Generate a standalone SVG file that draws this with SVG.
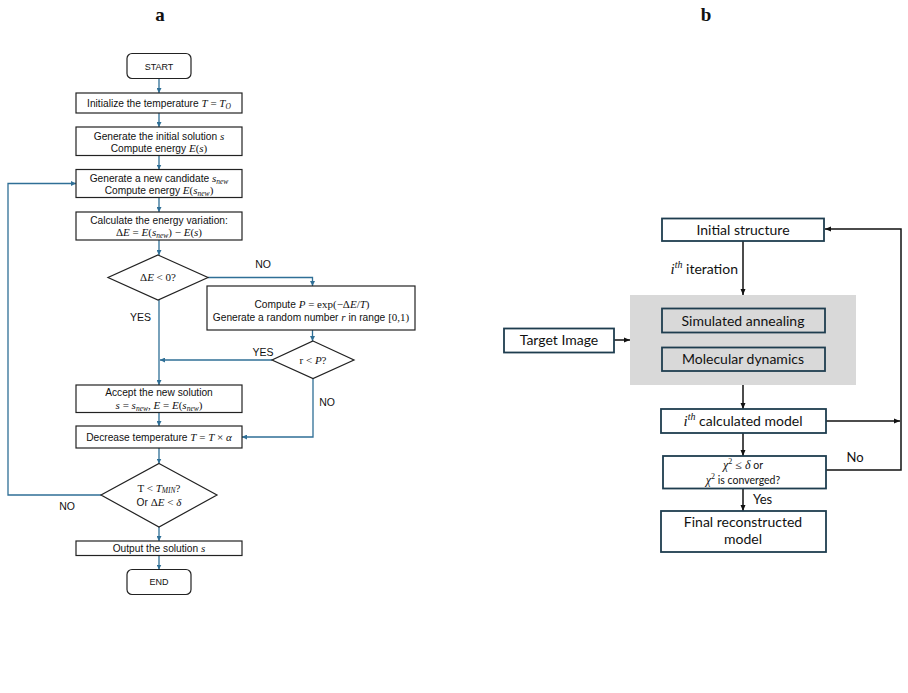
<svg xmlns="http://www.w3.org/2000/svg" width="908" height="693" viewBox="0 0 908 693">
<style>
.bx{fill:#fff;stroke:#222;stroke-width:1.2}
.t{font-family:"Liberation Sans",Arial,sans-serif;font-size:10.2px;fill:#111;text-anchor:middle}
.m{font-family:"Liberation Serif","Times New Roman",serif;font-style:italic;font-size:11px}
.r{font-family:"Liberation Serif","Times New Roman",serif;font-style:normal;font-size:11px}
.sb{font-size:7.5px}
.lab{font-family:"Liberation Sans",Arial,sans-serif;font-size:10.5px;fill:#111;text-anchor:middle}
.cl{fill:none;stroke:#2f6f96;stroke-width:1.3}
.cr{fill:none;stroke:#111;stroke-width:1.5}
.bb{fill:#fff;stroke:#1e3d4f;stroke-width:1.8}
.bg{fill:#d9d9d9;stroke:#1e3d4f;stroke-width:1.8}
.tb{font-family:Lato,"Liberation Sans",sans-serif;font-size:14px;fill:#111;text-anchor:middle}
.hd{font-family:"Liberation Serif","Times New Roman",serif;font-weight:bold;font-size:19px;fill:#111;text-anchor:middle}
</style>
<defs>
<marker id="al" markerUnits="userSpaceOnUse" markerWidth="5" markerHeight="5" refX="5" refY="2.5" orient="auto"><path d="M0,0 L5,2.5 L0,5 z" fill="#2f6f96"/></marker>
<marker id="ar" markerUnits="userSpaceOnUse" markerWidth="6" markerHeight="6" refX="6" refY="3" orient="auto"><path d="M0,0.5 L6,3 L0,5.5 z" fill="#111"/></marker>
</defs>

<text class="hd" x="160" y="21">a</text>
<text class="hd" x="706" y="21">b</text>

<g id="connectors-a">
<path class="cl" d="M159,78 V93" marker-end="url(#al)"/>
<path class="cl" d="M159,113 V127" marker-end="url(#al)"/>
<path class="cl" d="M159,155.5 V169.5" marker-end="url(#al)"/>
<path class="cl" d="M159,197.5 V212" marker-end="url(#al)"/>
<path class="cl" d="M159,240 V255" marker-end="url(#al)"/>
<path class="cl" d="M159,300 V385" marker-end="url(#al)"/>
<path class="cl" d="M208,277.5 H312.5 V286" marker-end="url(#al)"/>
<path class="cl" d="M312.5,330 V341" marker-end="url(#al)"/>
<path class="cl" d="M272,360 H160" marker-end="url(#al)"/>
<path class="cl" d="M313,378.5 V437 H242" marker-end="url(#al)"/>
<path class="cl" d="M159,412.5 V426" marker-end="url(#al)"/>
<path class="cl" d="M159,448 V463.5" marker-end="url(#al)"/>
<path class="cl" d="M101,495 H8 V183.5 H76" marker-end="url(#al)"/>
<path class="cl" d="M159,527 V541" marker-end="url(#al)"/>
<path class="cl" d="M159,555.5 V569.5" marker-end="url(#al)"/>
<text class="lab" x="263" y="268">NO</text>
<text class="lab" x="140.5" y="320.5">YES</text>
<text class="lab" x="263" y="355.5">YES</text>
<text class="lab" x="327" y="405.5">NO</text>
<text class="lab" x="67" y="510">NO</text>
</g>

<g id="start"><rect class="bx" x="127" y="53.5" width="64" height="25" rx="5"/><text class="t" x="159" y="69.5" style="font-size:9px">START</text></g>
<g id="init"><rect class="bx" x="76" y="93" width="166" height="20"/><text class="t" x="159" y="106.5">Initialize the temperature <tspan class="m">T</tspan><tspan class="r"> = </tspan><tspan class="m">T</tspan><tspan class="m sb" dy="2">O</tspan></text></g>
<g id="gen-init"><rect class="bx" x="76" y="127" width="166" height="28.5"/><text class="t" x="159" y="139.5">Generate the initial solution <tspan class="m">s</tspan></text><text class="t" x="159" y="152">Compute energy <tspan class="m">E</tspan><tspan class="r">(</tspan><tspan class="m">s</tspan><tspan class="r">)</tspan></text></g>
<g id="gen-new"><rect class="bx" x="76" y="169.5" width="166" height="28"/><text class="t" x="159" y="181.5">Generate a new candidate <tspan class="m">s</tspan><tspan class="m sb" dy="2">new</tspan></text><text class="t" x="159" y="194">Compute energy <tspan class="m">E</tspan><tspan class="r">(</tspan><tspan class="m">s</tspan><tspan class="m sb" dy="2">new</tspan><tspan class="r" dy="-2">)</tspan></text></g>
<g id="calc"><rect class="bx" x="76" y="212" width="166" height="28"/><text class="t" x="159" y="224">Calculate the energy variation:</text><text class="t" x="159" y="236"><tspan class="r">Δ</tspan><tspan class="m">E</tspan><tspan class="r"> = </tspan><tspan class="m">E</tspan><tspan class="r">(</tspan><tspan class="m">s</tspan><tspan class="m sb" dy="2">new</tspan><tspan class="r" dy="-2">) − </tspan><tspan class="m">E</tspan><tspan class="r">(</tspan><tspan class="m">s</tspan><tspan class="r">)</tspan></text></g>
<g id="dec1"><path class="bx" d="M158,255 L208,277.5 L158,300 L108,277.5 Z"/><text class="t" x="158" y="281"><tspan class="r">Δ</tspan><tspan class="m">E</tspan><tspan class="r"> &lt; 0?</tspan></text></g>
<g id="compute"><rect class="bx" x="207" y="286" width="208" height="44"/><text class="t" x="312" y="307.5">Compute <tspan class="m">P</tspan><tspan class="r"> = exp(−Δ</tspan><tspan class="m">E</tspan><tspan class="r">/</tspan><tspan class="m">T</tspan><tspan class="r">)</tspan></text><text class="t" x="311" y="321">Generate a random number <tspan class="m">r</tspan> in range <tspan class="r">[0,1)</tspan></text></g>
<g id="dec2"><path class="bx" d="M313,341 L354,360 L313,378.5 L272,360 Z"/><text class="t" x="313" y="363.5"><tspan class="r">r &lt; </tspan><tspan class="m">P</tspan><tspan class="r">?</tspan></text></g>
<g id="accept"><rect class="bx" x="76" y="385" width="166" height="27.5"/><text class="t" x="159" y="395.5">Accept the new solution</text><text class="t" x="159" y="408.5"><tspan class="m">s</tspan><tspan class="r"> = </tspan><tspan class="m">s</tspan><tspan class="m sb" dy="2">new</tspan><tspan class="r" dy="-2">, </tspan><tspan class="m">E</tspan><tspan class="r"> = </tspan><tspan class="m">E</tspan><tspan class="r">(</tspan><tspan class="m">s</tspan><tspan class="m sb" dy="2">new</tspan><tspan class="r" dy="-2">)</tspan></text></g>
<g id="decrease"><rect class="bx" x="76" y="426" width="166" height="22"/><text class="t" x="159" y="440.5">Decrease temperature <tspan class="m">T</tspan><tspan class="r"> = </tspan><tspan class="m">T</tspan><tspan class="r"> × </tspan><tspan class="m">α</tspan></text></g>
<g id="dec3"><path class="bx" d="M159,463.5 L217,495 L159,527 L101,495 Z"/><text class="t" x="159" y="491.5"><tspan class="r">T &lt; </tspan><tspan class="m">T</tspan><tspan class="m sb" dy="1.5">MIN</tspan><tspan class="r" dy="-1.5">?</tspan></text><text class="t" x="159" y="505.5">Or <tspan class="r">Δ</tspan><tspan class="m">E</tspan><tspan class="r"> &lt; </tspan><tspan class="m">δ</tspan></text></g>
<g id="output"><rect class="bx" x="76" y="541" width="166" height="14.5"/><text class="t" x="159" y="551.8">Output the solution <tspan class="m">s</tspan></text></g>
<g id="end"><rect class="bx" x="127" y="569.5" width="64" height="25" rx="5"/><text class="t" x="159" y="585" style="font-size:9px">END</text></g>

<g id="panel"><rect x="630" y="295" width="226" height="90" fill="#d9d9d9"/></g>
<g id="connectors-b">
<path class="cr" d="M743,241 V295" marker-end="url(#ar)"/>
<path class="cr" d="M614,340 H630" marker-end="url(#ar)"/>
<path class="cr" d="M743,385 V409" marker-end="url(#ar)"/>
<path class="cr" d="M826,421 H900" marker-end="url(#ar)"/>
<path class="cr" d="M826,470 H901 V229 H825" marker-end="url(#ar)"/>
<path class="cr" d="M743,433 V456" marker-end="url(#ar)"/>
<path class="cr" d="M743,488.5 V511" marker-end="url(#ar)"/>
<text class="tb" x="738" y="273.5" style="text-anchor:end"><tspan class="m" style="font-size:15px">i</tspan><tspan class="m" style="font-size:10px" dy="-6">th</tspan><tspan dy="6"> iteration</tspan></text>
<text class="tb" x="855" y="462" style="font-size:13px">No</text>
<text class="tb" x="753" y="503.5" style="font-size:13px;text-anchor:start">Yes</text>
</g>
<g id="initial"><rect class="bb" x="662" y="218.5" width="162" height="22.5"/><text class="tb" x="743" y="234.5">Initial structure</text></g>
<g id="sa"><rect class="bg" x="662" y="308.5" width="163" height="24"/><text class="tb" x="743" y="325.5">Simulated annealing</text></g>
<g id="md"><rect class="bg" x="662" y="347.5" width="163" height="23.5"/><text class="tb" x="743" y="364">Molecular dynamics</text></g>
<g id="target"><rect class="bb" x="504" y="328.5" width="110" height="24"/><text class="tb" x="559" y="345">Target Image</text></g>
<g id="calc-model"><rect class="bb" x="661" y="409" width="165" height="24"/><text class="tb" x="743" y="426"><tspan class="m" style="font-size:15px">i</tspan><tspan class="m" style="font-size:10px" dy="-6">th</tspan><tspan dy="6"> calculated model</tspan></text></g>
<g id="chi"><rect class="bb" x="663" y="456" width="163" height="32.5"/><text class="tb" x="743" y="468.5" style="font-size:10.5px"><tspan class="m" style="font-size:12px">χ</tspan><tspan class="r" style="font-size:8px" dy="-5">2</tspan><tspan class="r" style="font-size:12px" dy="5"> ≤ </tspan><tspan class="m" style="font-size:12px">δ</tspan> or</text><text class="tb" x="743" y="483.5" style="font-size:10.5px"><tspan class="m" style="font-size:12px">χ</tspan><tspan class="r" style="font-size:8px" dy="-5">2</tspan><tspan dy="5"> is converged?</tspan></text></g>
<g id="final"><rect class="bb" x="661" y="511" width="165" height="41"/><text class="tb" x="743" y="527">Final reconstructed</text><text class="tb" x="743" y="544">model</text></g>
</svg>
